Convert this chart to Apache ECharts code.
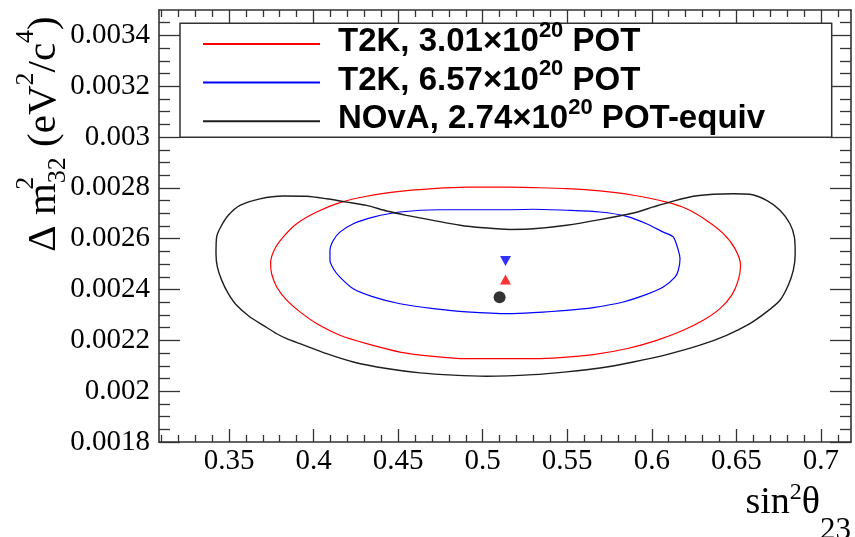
<!DOCTYPE html>
<html>
<head>
<meta charset="utf-8">
<title>Δm²32 vs sin²θ23 contours</title>
<script src="https://cdn.jsdelivr.net/npm/echarts@6/dist/echarts.min.js"></script>
<style>
  html, body { margin: 0; padding: 0; background: #ffffff; }
  #chart { width: 855px; height: 537px; }
</style>
</head>
<body>
<div id="chart"></div>
<script>
// Allowed-region contours in the (sin²θ23, Δm²32) plane, as [sin²θ23, Δm²32 in eV²/c⁴]
const t2kRun1Contour = [
  [0.5161,0.002803],[0.4905,0.002803],[0.4708,0.002797],[0.4511,0.002786],[0.4314,0.002767],
  [0.4156,0.002742],[0.4018,0.002705],[0.3900,0.002659],[0.3821,0.002607],[0.3766,0.002554],
  [0.3746,0.002502],[0.3752,0.002462],[0.3782,0.002410],[0.3841,0.002358],[0.3920,0.002312],
  [0.4018,0.002266],[0.4156,0.002220],[0.4314,0.002187],[0.4511,0.002154],[0.4708,0.002137],
  [0.4905,0.002128],[0.5102,0.002128],[0.5299,0.002128],[0.5457,0.002132],[0.5654,0.002144],
  [0.5851,0.002167],[0.6029,0.002200],[0.6186,0.002240],[0.6304,0.002279],[0.6403,0.002325],
  [0.6472,0.002377],[0.6511,0.002436],[0.6525,0.002495],[0.6492,0.002561],[0.6423,0.002620],
  [0.6324,0.002672],[0.6206,0.002718],[0.6088,0.002744],[0.5891,0.002771],[0.5694,0.002788],
  [0.5496,0.002797],[0.5300,0.002801],[0.5161,0.002803]
];
const t2kRun2Contour = [
  [0.5161,0.002714],[0.4945,0.002714],[0.4748,0.002714],[0.4511,0.002705],[0.4353,0.002685],
  [0.4235,0.002659],[0.4156,0.002626],[0.4117,0.002594],[0.4097,0.002554],[0.4097,0.002515],
  [0.4117,0.002482],[0.4156,0.002449],[0.4235,0.002403],[0.4353,0.002371],[0.4511,0.002344],
  [0.4708,0.002325],[0.4905,0.002312],[0.5161,0.002305],[0.5299,0.002309],[0.5496,0.002318],
  [0.5654,0.002329],[0.5831,0.002351],[0.5969,0.002381],[0.6068,0.002410],[0.6137,0.002449],
  [0.6157,0.002476],[0.6167,0.002521],[0.6157,0.002554],[0.6127,0.002607],[0.6068,0.002626],
  [0.5969,0.002659],[0.5851,0.002688],[0.5694,0.002705],[0.5496,0.002712],[0.5299,0.002716],
  [0.5161,0.002714]
];
const novaContour = [
  [0.5161,0.002636],[0.5004,0.002643],[0.4866,0.002653],[0.4708,0.002672],[0.4550,0.002692],
  [0.4432,0.002709],[0.4314,0.002731],[0.4196,0.002744],[0.4077,0.002757],[0.3959,0.002767],
  [0.3821,0.002768],[0.3683,0.002757],[0.3565,0.002731],[0.3496,0.002692],[0.3451,0.002646],
  [0.3427,0.002607],[0.3423,0.002541],[0.3431,0.002489],[0.3457,0.002436],[0.3496,0.002384],
  [0.3545,0.002338],[0.3624,0.002292],[0.3703,0.002259],[0.3782,0.002226],[0.3841,0.002207],
  [0.3920,0.002187],[0.4077,0.002148],[0.4235,0.002115],[0.4432,0.002089],[0.4629,0.002072],
  [0.4826,0.002063],[0.5023,0.002059],[0.5299,0.002065],[0.5496,0.002076],[0.5694,0.002091],
  [0.5891,0.002115],[0.6088,0.002144],[0.6285,0.002181],[0.6442,0.002220],[0.6580,0.002266],
  [0.6679,0.002312],[0.6758,0.002358],[0.6807,0.002417],[0.6837,0.002476],[0.6848,0.002541],
  [0.6843,0.002607],[0.6817,0.002659],[0.6758,0.002712],[0.6679,0.002751],[0.6580,0.002775],
  [0.6482,0.002777],[0.6364,0.002775],[0.6245,0.002767],[0.6127,0.002748],[0.6009,0.002725],
  [0.5891,0.002701],[0.5694,0.002675],[0.5496,0.002653],[0.5299,0.002639],[0.5161,0.002636]
];

// Best-fit points
const t2kRun1BestFit = [0.5135, 0.002439];
const t2kRun2BestFit = [0.5135, 0.002512];
const novaBestFit = [0.5100, 0.002370];

// Legend text pieces: prefix, exponent of ten, suffix
const legendPrefix = ['T2K, 3.01×10', 'T2K, 6.57×10', 'NOvA, 2.74×10'];
const legendExponent = ['20', '20', '20'];
const legendSuffix = [' POT', ' POT', ' POT-equiv'];
const seriesNames = legendPrefix.map((p, i) => p + '^' + legendExponent[i] + legendSuffix[i]);

// Axis ranges and tick positions
const X_MIN = 0.3086, X_MAX = 0.7178;
const Y_MIN = 0.0018, Y_MAX = 0.0035;
const xMajorTicks = [0.35, 0.4, 0.45, 0.5, 0.55, 0.6, 0.65, 0.7];
const yMajorTicks = [0.0018, 0.002, 0.0022, 0.0024, 0.0026, 0.0028, 0.003, 0.0032, 0.0034];

const xMinorTicks = [];
for (let k = 31; k <= 71; k++) if (k % 5 !== 0) xMinorTicks.push(k / 100);
const yMinorTicks = [];
for (let k = 37; k <= 69; k++) if (k % 4 !== 0) yMinorTicks.push(k * 0.00005);

const FRAME = '#333333';
const SERIF = '"Liberation Serif", "Times New Roman", serif';
const SANS = '"Liberation Sans", Arial, sans-serif';

const fmt = v => String(parseFloat(Number(v).toFixed(6)));

function makeAxis(kind, position, ticks, tickLen, withLine, withLabels) {
  const isX = kind === 'x';
  return {
    type: 'value',
    position: position,
    min: isX ? X_MIN : Y_MIN,
    max: isX ? X_MAX : Y_MAX,
    axisLine: { show: withLine, onZero: false, lineStyle: { color: FRAME, width: 1.6 } },
    axisTick: { show: true, inside: true, length: tickLen, customValues: ticks,
                lineStyle: { color: FRAME, width: 1.3 } },
    axisLabel: withLabels ? {
      show: true, customValues: ticks, formatter: fmt,
      margin: isX ? 5 : 9, color: '#000', fontFamily: SERIF, fontSize: 29
    } : { show: false },
    splitLine: { show: false },
    minorTick: { show: false },
    minorSplitLine: { show: false }
  };
}

// One legend block per entry so each row sits at its own height
const legendRowCenters = [41.7, 80.3, 119];
const legends = seriesNames.map((name, i) => ({
  data: [name],
  orient: 'vertical',
  left: 203, top: legendRowCenters[i] - 22.1,
  padding: 0,
  itemWidth: 117, itemHeight: 2,
  icon: 'rect',
  selectedMode: false,
  z: 10,
  formatter: () => '{m|' + legendPrefix[i] + '}{s|' + legendExponent[i] + '}{m|' + legendSuffix[i] + '}',
  textStyle: {
    padding: [0, 0, 4.2, 13],
    color: '#000',
    rich: {
      m: { fontFamily: SANS, fontWeight: 'bold', fontSize: 33, color: '#000',
           height: 40, verticalAlign: 'top' },
      s: { fontFamily: SANS, fontWeight: 'bold', fontSize: 22, color: '#000',
           height: 17.4, verticalAlign: 'top' }
    }
  }
}));

const chart = echarts.init(document.getElementById('chart'), null, { renderer: 'canvas' });

const contourSeries = [
  { data: t2kRun1Contour, color: '#ff0000', width: 1.2 },
  { data: t2kRun2Contour, color: '#0000ff', width: 1.2 },
  { data: novaContour, color: '#1e1e1e', width: 1.4 }
].map((c, i) => ({
  name: seriesNames[i],
  type: 'line',
  xAxisIndex: 0, yAxisIndex: 0,
  data: c.data,
  symbol: 'none', showSymbol: false,
  smooth: 0.25,
  lineStyle: { color: c.color, width: c.width },
  itemStyle: { color: c.color },
  silent: true, z: 2
}));

const markerSeries = [
  { data: [t2kRun2BestFit], symbol: 'triangle', rotate: 180, size: [11, 10], color: '#0000ff' },
  { data: [t2kRun1BestFit], symbol: 'triangle', rotate: 0, size: [11, 10], color: '#ff0000' },
  { data: [novaBestFit], symbol: 'circle', rotate: 0, size: 12, color: '#000000' }
].map(m => ({
  type: 'scatter',
  xAxisIndex: 0, yAxisIndex: 0,
  data: m.data,
  symbol: m.symbol, symbolRotate: m.rotate, symbolSize: m.size,
  itemStyle: { color: m.color },
  silent: true, z: 5
}));

const option = {
  animation: false,
  backgroundColor: '#ffffff',
  grid: { left: 159, top: 10, width: 692, height: 432, show: false, containLabel: false },
  xAxis: [
    makeAxis('x', 'bottom', xMajorTicks, 13, true, true),
    makeAxis('x', 'bottom', xMinorTicks, 7, false, false),
    makeAxis('x', 'top', xMajorTicks, 13, true, false),
    makeAxis('x', 'top', xMinorTicks, 7, false, false)
  ],
  yAxis: [
    makeAxis('y', 'left', yMajorTicks, 21, true, true),
    makeAxis('y', 'left', yMinorTicks, 11, false, false),
    makeAxis('y', 'right', yMajorTicks, 21, true, false),
    makeAxis('y', 'right', yMinorTicks, 11, false, false)
  ],
  legend: legends,
  graphic: [
    {
      type: 'rect', z: 9,
      shape: { x: 180, y: 23.3, width: 651.7, height: 114 },
      style: { fill: '#ffffff', stroke: FRAME, lineWidth: 1.5 }
    },
    {
      // x-axis title
      type: 'text', z: 10,
      style: {
        x: 851, y: 470, align: 'right', verticalAlign: 'top',
        text: '{m|sin}{p|2}{m|θ}{b|23}',
        rich: {
          m: { fontFamily: SERIF, fontSize: 38, color: '#000', height: 66.8, verticalAlign: 'top' },
          p: { fontFamily: SERIF, fontSize: 24, color: '#000', height: 46, verticalAlign: 'top' },
          b: { fontFamily: SERIF, fontSize: 31, color: '#000', height: 121.8, verticalAlign: 'top' }
        }
      }
    },
    {
      // y-axis title, rotated to read bottom-to-top; the "2" over "32" is stacked
      type: 'text', z: 10,
      x: 0, y: 134, rotation: Math.PI / 2,
      style: {
        x: 0, y: 0, align: 'center', verticalAlign: 'top',
        text: '{m|Δ m}{q|2}{b|32}{m| (eV}{p|2}{m|/c}{p|4}{m|)}',
        rich: {
          m: { fontFamily: SERIF, fontSize: 41, color: '#000', height: 88.6, verticalAlign: 'top' },
          q: { fontFamily: SERIF, fontSize: 26, color: '#000', height: 51.7, width: 0, verticalAlign: 'top' },
          p: { fontFamily: SERIF, fontSize: 26, color: '#000', height: 51.7, verticalAlign: 'top' },
          b: { fontFamily: SERIF, fontSize: 26, color: '#000', height: 115.6, verticalAlign: 'top' }
        }
      }
    }
  ],
  series: contourSeries.concat(markerSeries)
};

chart.setOption(option);
</script>
</body>
</html>
